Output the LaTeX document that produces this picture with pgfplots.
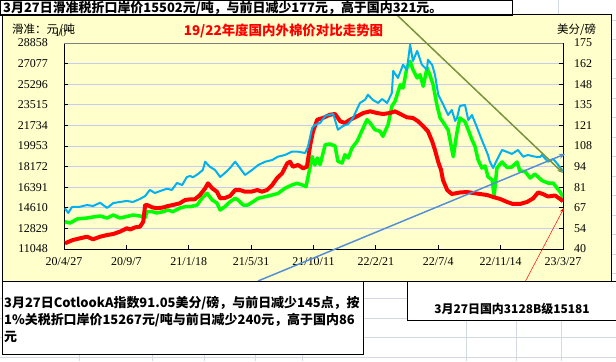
\documentclass[border=0pt]{standalone}
\usepackage{fontspec}
\setmainfont{Liberation Serif}
\newfontfamily\cjk{Noto Sans CJK SC}
\usepackage{pgfplots}
\pgfplotsset{compat=1.18}
\usetikzlibrary{arrows.meta}
\definecolor{chartbg}{RGB}{255,255,204}
\definecolor{cyanline}{RGB}{0,176,240}
\definecolor{greenline}{RGB}{0,255,0}
\definecolor{gridc}{RGB}{200,204,240}
\definecolor{trendg}{RGB}{119,147,60}
\definecolor{trendb}{RGB}{85,142,213}
\definecolor{cellgrid}{RGB}{212,216,226}

\pgfplotstableread{
day val
2 11541
19 11826
34 11973
49 12111
62 11887
77 12111
92 12258
105 12345
119 12544
134 12838
141 12734
152 12924
162 12976
169 13408
173 14852
177 14852
188 14653
198 14567
211 14636
222 14766
232 14852
247 14999
258 15284
269 15345
279 15345
290 15717
301 16296
307 16728
316 16296
326 16002
333 15431
343 15457
354 15630
365 16149
375 16149
386 16002
401 16019
412 16149
422 16002
433 16149
444 16581
454 17160
465 17593
476 18457
482 18596
488 18163
499 18310
510 18025
518 18163
525 20039
531 21224
540 22227
552 22374
567 22659
578 22720
589 22088
599 21941
610 22227
625 22521
638 22806
653 22953
667 22806
680 22720
695 22806
706 22953
717 22720
731 22434
744 22374
755 22088
766 21656
776 21224
785 20359
791 19607
798 18570
804 17878
808 17013
817 16149
827 15803
844 15933
859 15976
872 15890
887 15803
902 15717
915 15544
930 15371
945 15111
957 14939
972 14939
987 15111
1000 15414
1011 15933
1021 15803
1032 15587
1047 15673
1058 15371
1064 15181
}\redtab

\pgfplotstableread{
day val
2 13408
13 13296
28 13642
49 13728
62 13815
77 13901
92 13728
105 13988
119 13728
134 13858
147 13988
162 13901
173 13754
177 14273
188 14273
198 14160
211 14273
222 14420
232 14273
247 14593
258 14705
269 14705
284 14852
294 15431
305 15864
316 15284
326 15025
333 14420
343 14705
354 15137
365 15431
371 15284
382 14852
392 14852
403 15137
414 15431
429 15570
444 15717
456 15846
471 16296
486 16581
497 16728
508 16581
516 16434
522 17619
529 19028
535 18310
540 18915
546 18336
557 20065
567 20126
578 19953
584 18630
593 18483
599 19201
606 18915
614 19780
625 20359
635 21250
646 22227
653 21941
663 21362
674 21224
680 20792
691 21795
699 23385
706 23818
717 25252
723 24967
731 26697
738 27276
744 26550
753 25832
759 26117
766 25114
774 26697
780 26117
787 25252
795 23524
802 22374
808 22028
819 21336
830 19028
838 21163
844 22374
855 22054
862 21336
870 20472
876 19953
883 18743
891 18051
898 18224
904 17299
913 17013
917 15570
923 18051
934 18570
945 18094
955 18137
966 18570
972 17792
983 17748
994 17186
1004 17532
1019 16970
1032 16754
1043 16754
1051 16322
1058 15976
1064 15502
}\greentab

\pgfplotstableread{
day val
2 66.7
9 63.6
17 67.5
34 67.7
49 68.8
62 68.2
77 70.3
92 66.9
105 70.1
119 70.8
134 71.5
147 70.8
162 72.8
173 74.7
183 78.7
194 76.7
205 78.0
220 79.5
230 78.7
241 83.3
252 81.9
262 87.2
269 87.8
275 87.0
286 89.2
296 91.8
301 97.2
311 93.9
322 91.8
333 87.2
343 89.8
354 93.1
365 97.2
375 93.1
386 88.5
401 91.8
414 95.0
429 97.2
444 98.3
456 100.5
471 101.6
486 103.8
499 103.8
514 102.9
520 106.8
529 119.3
535 121.3
546 122.6
557 127.2
574 128.5
584 118.2
595 120.6
606 121.9
616 125.8
631 135.7
642 137.8
648 141.1
659 137.6
670 135.7
678 138.3
689 135.7
699 142.2
702 156.7
712 152.1
723 160.8
731 157.3
738 173.9
744 163.2
753 169.8
763 160.8
774 157.5
776 164.1
785 160.6
791 154.2
798 141.1
806 136.3
819 127.8
827 131.1
834 123.9
838 125.8
844 133.7
855 134.4
862 124.5
870 127.8
881 119.3
891 111.4
898 106.2
904 101.6
908 97.2
915 93.1
923 98.3
934 104.9
945 103.6
955 102.3
968 104.9
979 100.5
989 101.6
1004 100.5
1015 100.3
1019 101.6
1032 97.2
1043 99.0
1053 95.4
1064 91.05
}\cyantab

\begin{document}
\begin{tikzpicture}[x=1bp,y=1bp]
\useasboundingbox (0,0) rectangle (616,361);
\fill[white] (0,0) rectangle (616,361);
% spreadsheet cell grid
\foreach \yy in {20,39.5,59,78.5,98,117.5,137,156.5,176,195.5,215,234.5,254,273.5}{
  \draw[cellgrid, line width=0.6] (611,361-\yy) -- (616,361-\yy);
}
\foreach \yy in {298.5,318,337.5,357}{
  \draw[cellgrid, line width=0.6] (0,361-\yy) -- (616,361-\yy);
}
\foreach \xx in {79,152,204,255,302,466,516,561}{
  \draw[cellgrid, line width=0.6] (\xx,361-281) -- (\xx,0);
}
\draw[cellgrid, line width=0.6] (558,361) -- (558,361-14);
% chart area
\filldraw[fill=chartbg, draw=black, line width=0.8] (2.5,361-281) rectangle (611,361-14);

\begin{axis}[
  at={(64bp,112bp)}, anchor=south west,
  scale only axis, width=499bp, height=206bp,
  xmin=0, xmax=1064, ymin=11048, ymax=28858,
  xtick={0,133,266,399,532,665,798,931,1064},
  xticklabels={20/4/27,20/9/7,21/1/18,21/5/31,21/10/11,22/2/21,22/7/4,22/11/14,23/3/27},
  ytick={11048,12829,14610,16391,18172,19953,21734,23515,25296,27077,28858},
  yticklabels={11048,12829,14610,16391,18172,19953,21734,23515,25296,27077,28858},
  xtick pos=bottom, ytick pos=left,
  tick align=inside, major tick length=4bp,
  ymajorgrids, major grid style={gridc, line width=0.9bp},
  axis line style={black, line width=0.8bp},
  tick style={black, line width=0.8bp},
  ticklabel style={font=\fontsize{12}{12}\selectfont, inner sep=0pt},
  yticklabel style={anchor=east, xshift=-16bp},
  xticklabel style={anchor=north, yshift=-8bp},
]
\addplot[greenline, line width=3.5bp, line join=round, no markers] table[x=day,y=val] {\greentab};
\addplot[red, line width=4bp, line join=round, no markers] table[x=day,y=val] {\redtab};
\end{axis}

\begin{axis}[
  at={(64bp,112bp)}, anchor=south west,
  scale only axis, width=499bp, height=206bp,
  xmin=0, xmax=1064, ymin=40, ymax=175,
  axis x line=none, axis y line*=right,
  ytick={40,53.5,67,80.5,94,107.5,121,134.5,148,161.5,175},
  yticklabels={40,54,67,81,94,108,121,135,148,162,175},
  tick align=inside, major tick length=4bp,
  axis line style={black, line width=0.8bp},
  tick style={black, line width=0.8bp},
  ticklabel style={font=\fontsize{12}{12}\selectfont, inner sep=0pt},
  yticklabel style={anchor=west, xshift=11bp},
]
\addplot[cyanline, line width=2bp, line join=round, no markers] table[x=day,y=val] {\cyantab};
\end{axis}

\draw[gray, line width=0.8] (64,361-43) -- (563,361-43);

% titles
\node[anchor=west, inner sep=0] at (12,361-29.5) {\cjk\fontsize{11.5}{11.5}\selectfont 滑准：元\kern0.6pt/\kern0.6pt 吨};
\node[inner sep=0] at (283.5,361-31) {\cjk\bfseries\color{red}\fontsize{13.5}{13.5}\selectfont 19/22年度国内外棉价对比走势图};
\node[anchor=west, inner sep=0] at (557,361-29.5) {\cjk\fontsize{11.5}{11.5}\selectfont 美分/磅};

% trend lines
\draw[trendb, line width=1.5, -{Stealth[length=6bp,width=5bp]}] (258,361-281) -- (565,361-154);
\draw[trendg, line width=1.5, -{Stealth[length=6bp,width=5bp]}] (397,361-15) -- (563,361-173);
\draw[red, line width=0.5, -{Stealth[length=5bp,width=4bp]}] (525,361-282) -- (564,361-208);

% top box
\filldraw[fill=white, draw=black, line width=1.2] (0.6,361-15) rectangle (512.5,360.4);
\node[anchor=west, inner sep=0] at (3,361-8) {\cjk\bfseries\fontsize{13}{13}\selectfont 3月27日滑准税折口岸价15502元/吨，与前日减少177元，高于国内321元。};

% bottom boxes
\filldraw[fill=white, draw=black, line width=1] (2,361-281) rectangle (363,361-354);
\node[anchor=west, inner sep=0] at (4,361-303) {\cjk\bfseries\fontsize{13}{13}\selectfont 3月27日CotlookA指数91.05美分/磅，与前日减少145点，按};
\node[anchor=west, inner sep=0] at (4,361-320) {\cjk\bfseries\fontsize{13}{13}\selectfont 1\%关税折口岸价15267元/吨与前日减少240元，高于国内86};
\node[anchor=west, inner sep=0] at (4,361-337) {\cjk\bfseries\fontsize{13}{13}\selectfont 元};
\filldraw[fill=white, draw=black, line width=1] (407,361-281) rectangle (616,361-320);
\node[inner sep=0] at (512,361-309) {\cjk\bfseries\fontsize{12}{12}\selectfont 3月27日国内3128B级15181};
\end{tikzpicture}
\end{document}
